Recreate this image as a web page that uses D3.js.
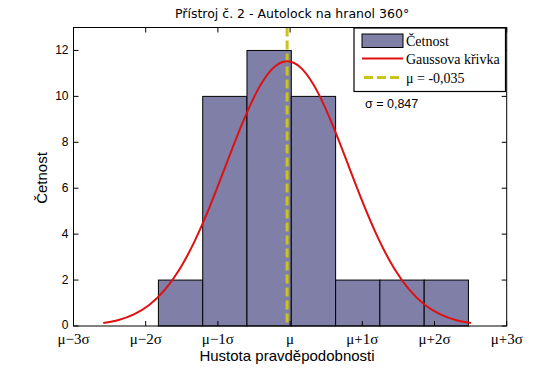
<!DOCTYPE html>
<html><head><meta charset="utf-8">
<script src="https://cdn.jsdelivr.net/npm/d3@7"></script>
<style>body{margin:0;background:#fff}svg{display:block}</style>
</head><body>
<script>
const binEdges = [-1.545, -1.025, -0.506, 0.014, 0.534, 1.053, 1.573, 2.092];
const counts = [2, 10, 12, 10, 2, 2, 2];
const curveX = [-2.192,-2.012,-1.833,-1.653,-1.473,-1.293,-1.114,-0.934,-0.754,-0.574,-0.395,-0.215,-0.035,0.145,0.325,0.504,0.684,0.864,1.044,1.223,1.403,1.583,1.763,1.942,2.122];
const curveY = [0.128,0.263,0.507,0.917,1.560,2.494,3.743,5.279,6.993,8.703,10.175,11.175,11.53,11.175,10.175,8.703,6.993,5.279,3.743,2.494,1.560,0.917,0.507,0.263,0.128];
const mu = -0.035, sigma = 0.847;
const xTickMult = [-3,-2,-1,0,1,2,3];
const xTickLabels = ["μ−3σ","μ−2σ","μ−1σ","μ","μ+1σ","μ+2σ","μ+3σ"];
const yTicks = [0,2,4,6,8,10,12];
const legendLabels = ["Četnost","Gaussova křivka","μ = -0,035"];
const sigmaLabel = "σ = 0,847";
const title = "Přístroj č. 2 - Autolock na hranol 360°";

const W=560,H=368, L=73.5, R=506.7, T=27.5, B=326;
const svg=d3.select("body").append("svg").attr("width",W).attr("height",H);
const x=d3.scaleLinear().domain([-3*sigma,3*sigma]).range([L,R]);
const y=d3.scaleLinear().domain([0,13]).range([B,T]);

svg.append("rect").attr("x",L).attr("y",T).attr("width",R-L).attr("height",B-T).attr("fill","#fff");

svg.append("g").selectAll("rect").data(counts).join("rect")
 .attr("x",(d,i)=>x(binEdges[i])).attr("width",(d,i)=>x(binEdges[i+1])-x(binEdges[i]))
 .attr("y",d=>y(d)).attr("height",d=>y(0)-y(d))
 .attr("fill","#7f7fa8").attr("stroke","#000").attr("stroke-width",1);

svg.append("line").attr("x1",x(mu)).attr("x2",x(mu)).attr("y1",y(13)).attr("y2",y(0))
 .attr("stroke","#c8c41e").attr("stroke-width",3).attr("stroke-dasharray","9,4");

const pts=curveX.map((v,i)=>[v,curveY[i]]);
svg.append("path").datum(pts).attr("fill","none").attr("stroke","#e01010").attr("stroke-width",2)
 .attr("d",d3.line().x(d=>x(d[0])).y(d=>y(d[1])).curve(d3.curveNatural));

svg.append("rect").attr("x",L).attr("y",T).attr("width",R-L).attr("height",B-T).attr("fill","none").attr("stroke","#000").attr("stroke-width",1);

const ax=svg.append("g").attr("font-family","Liberation Sans, Arial, sans-serif").attr("font-size",12);
xTickMult.forEach((k,i)=>{
  const px=x(k*sigma);
  ax.append("line").attr("x1",px).attr("x2",px).attr("y1",B).attr("y2",B-5).attr("stroke","#000");
  ax.append("line").attr("x1",px).attr("x2",px).attr("y1",T).attr("y2",T+5).attr("stroke","#000");
  ax.append("text").attr("x",px).attr("y",B+18).attr("text-anchor","middle").attr("font-family","Liberation Serif, serif").attr("font-size",15).text(xTickLabels[i]);
});
yTicks.forEach(v=>{
  const py=y(v);
  ax.append("line").attr("x1",L).attr("x2",L+5).attr("y1",py).attr("y2",py).attr("stroke","#000");
  ax.append("line").attr("x1",R).attr("x2",R-5).attr("y1",py).attr("y2",py).attr("stroke","#000");
  ax.append("text").attr("x",L-5).attr("y",v===0?py+3:py+4).attr("text-anchor","end").text(v);
});

svg.append("text").attr("x",(L+R)/2+2).attr("y",18).attr("text-anchor","middle")
 .attr("font-family","DejaVu Sans, sans-serif").attr("font-size",12.5).text(title);
svg.append("text").attr("x",287).attr("y",361).attr("text-anchor","middle")
 .attr("font-family","Liberation Sans, Arial, sans-serif").attr("font-size",15).text("Hustota pravděpodobnosti");
svg.append("text").attr("transform","translate(47,178) rotate(-90)").attr("text-anchor","middle")
 .attr("font-family","Liberation Sans, Arial, sans-serif").attr("font-size",15).text("Četnost");

const lg=svg.append("g");
lg.append("rect").attr("x",354).attr("y",28).attr("width",151.5).attr("height",63.5).attr("fill","#fff").attr("stroke","#000").attr("stroke-width",1.2);
lg.append("rect").attr("x",362).attr("y",34).attr("width",41).attr("height",13.5).attr("fill","#7f7fa8").attr("stroke","#000");
lg.append("line").attr("x1",362).attr("x2",403).attr("y1",58.5).attr("y2",58.5).attr("stroke","#e01010").attr("stroke-width",2);
lg.append("line").attr("x1",364).attr("x2",403).attr("y1",77.5).attr("y2",77.5).attr("stroke","#c8c41e").attr("stroke-width",3).attr("stroke-dasharray","9,4");
const ly=[45.5,64,82.5];
legendLabels.forEach((t,i)=>lg.append("text").attr("x",406).attr("y",ly[i]).attr("font-family","Liberation Serif, serif").attr("font-size",14).text(t));
svg.append("text").attr("x",365).attr("y",108).attr("font-family","Liberation Sans, Arial, sans-serif").attr("font-size",12.5).text(sigmaLabel);
</script>
</body></html>
